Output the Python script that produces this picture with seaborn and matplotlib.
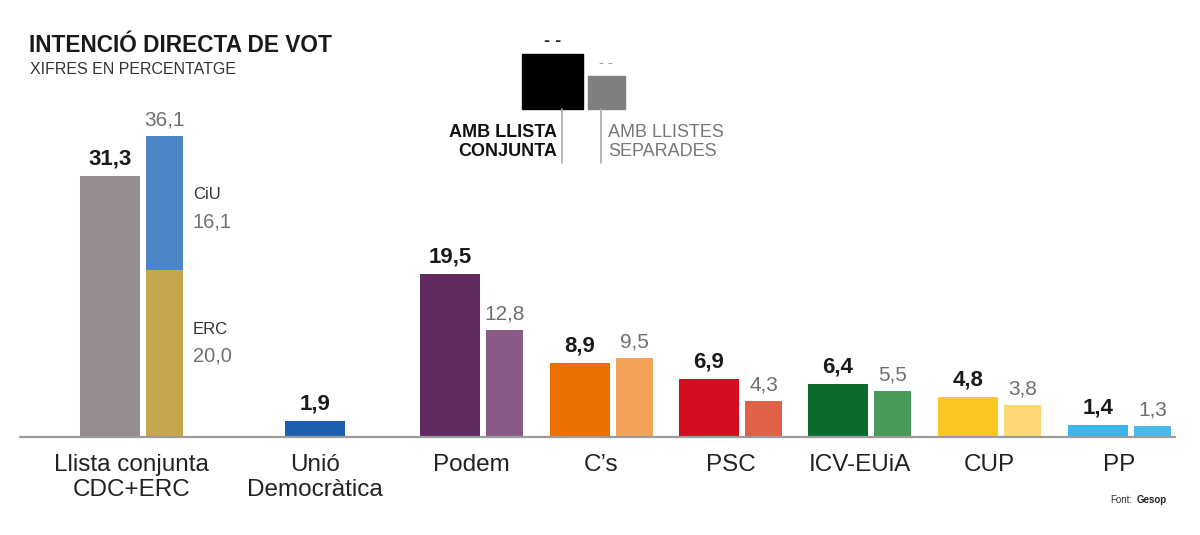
import numpy as np
import pandas as pd
import matplotlib
matplotlib.use("Agg")
import matplotlib.pyplot as plt
import seaborn as sns

# ---------------- data ----------------
parties = ["Llista conjunta\nCDC+ERC", "Unió\nDemocràtica", "Podem", "C’s", "PSC",
           "ICV-EUiA", "CUP", "PP"]
joint_values = [31.3, 1.9, 19.5, 8.9, 6.9, 6.4, 4.8, 1.4]
separate_values = [36.1, np.nan, 12.8, 9.5, 4.3, 5.5, 3.8, 1.3]
stack_labels = ["CiU", "ERC"]
stack_values = [16.1, 20.0]

title = "INTENCIÓ DIRECTA DE VOT"
subtitle = "XIFRES EN PERCENTATGE"
legend_joint = "AMB LLISTA\nCONJUNTA"
legend_sep = "AMB LLISTES\nSEPARADES"
source_prefix = "Font:"
source_name = "Gesop"

# ---------------- styles ----------------
joint_colors = ["#958c90", "#1a5fb0", "#622a60", "#ec7000", "#d30d1f", "#0a6b2c", "#fcc720", "#3bb4e8"]
sep_colors = ["#4b86c7", "#ffffff", "#8a5a86", "#f3a25a", "#df6246", "#479a58", "#fdd776", "#49b9ea"]
erc_color = "#c5a64f"

W, H = 1200, 535
BASE = 437          # baseline pixel row
PXU = 8.34          # pixels per percentage point
JOINT_LEFT = [80, 285, 420, 550, 679, 808, 938, 1068]
JOINT_W = 60
SEP_OFF = 66
SEP_W = 37

sns.set_theme(style="white")
plt.rcParams["font.family"] = ["Liberation Sans", "DejaVu Sans"]

fig = plt.figure(figsize=(W / 100, H / 100), dpi=100)
ax = fig.add_axes([0, (H - BASE) / H, 1, BASE / H])

idx = list(range(len(parties)))
df_joint = pd.DataFrame({"i": idx, "party": parties, "value": joint_values})
df_sep = pd.DataFrame({"i": idx, "party": parties, "value": separate_values}).dropna()
df_erc = pd.DataFrame({"i": [0], "party": [parties[0]], "value": [stack_values[1]]})

def draw(df, palette, left_fn, width):
    n0 = len(ax.patches)
    sns.barplot(data=df, x="i", y="value", hue="party", palette=palette, dodge=False,
                legend=False, native_scale=True, width=0.5, linewidth=0, ax=ax,
                errorbar=None, saturation=1)
    for p in ax.patches[n0:]:
        k = int(round(p.get_x() + p.get_width() / 2))
        p.set_x(left_fn(k))
        p.set_width(width)

draw(df_joint, dict(zip(parties, joint_colors)), lambda k: JOINT_LEFT[k], JOINT_W)
draw(df_sep, dict(zip(parties, sep_colors)), lambda k: JOINT_LEFT[k] + SEP_OFF, SEP_W)
draw(df_erc, {parties[0]: erc_color}, lambda k: JOINT_LEFT[k] + SEP_OFF, SEP_W)

ax.set_xlim(0, W)
ax.set_ylim(0, BASE / PXU)
for s in ax.spines.values():
    s.set_visible(False)
ax.axhline(0, xmin=20 / W, xmax=1175 / W, color="#9b9b9b", lw=1.6, clip_on=False)

# category labels
centers = []
for k in idx:
    if np.isnan(separate_values[k]):
        centers.append(JOINT_LEFT[k] + JOINT_W / 2)
    else:
        centers.append((JOINT_LEFT[k] + SEP_OFF + SEP_W + JOINT_LEFT[k]) / 2)
ax.set_xticks(centers)
ax.set_xticklabels(parties, fontsize=17.5, color="#222222", linespacing=1.2)
ax.tick_params(axis="x", length=0, pad=12)
ax.set_yticks([])
ax.set_xlabel("")
ax.set_ylabel("")

def fmt(v):
    return f"{v:.1f}".replace(".", ",")

for k in idx:
    jx = JOINT_LEFT[k] + JOINT_W / 2
    ax.text(jx, joint_values[k] + 17 / PXU, fmt(joint_values[k]), ha="center", va="center",
            fontsize=16, fontweight="bold", color="#1a1a1a")
    if not np.isnan(separate_values[k]):
        sx = JOINT_LEFT[k] + SEP_OFF + SEP_W / 2
        ax.text(sx, separate_values[k] + 16 / PXU, fmt(separate_values[k]), ha="center",
                va="center", fontsize=15, color="#6f6f6f")

# stacked component labels
sx = JOINT_LEFT[0] + SEP_OFF + SEP_W + 10
seg_tops = [stack_values[1] + stack_values[0], stack_values[1]]
for lab, val, top in zip(stack_labels, stack_values, seg_tops):
    ax.text(sx, top - 59 / PXU, lab, ha="left", va="center", fontsize=12, color="#333333")
    ax.text(sx, top - 86 / PXU, fmt(val), ha="left", va="center", fontsize=14.5, color="#6f6f6f")

# title
def fx(x):
    return x / W

def fy(y):
    return 1 - y / H

fig.text(fx(29), fy(45), title, ha="left", va="center", fontsize=16.3, fontweight="bold", color="#1a1a1a")
fig.text(fx(30), fy(70), subtitle, ha="left", va="center", fontsize=11.5, color="#333333")

# legend
fig.patches.append(plt.Rectangle((fx(522), fy(109)), fx(61), 55 / H, transform=fig.transFigure,
                                 color="#000000", figure=fig))
fig.patches.append(plt.Rectangle((fx(588), fy(109)), fx(37), 33 / H, transform=fig.transFigure,
                                 color="#7f7f7f", figure=fig))
fig.text(fx(553), fy(42), "- -", ha="center", va="center", fontsize=13, fontweight="bold", color="#222222")
fig.text(fx(606), fy(63), "- -", ha="center", va="center", fontsize=10.5, color="#9a9a9a")
fig.lines.append(plt.Line2D([fx(562), fx(562)], [fy(109), fy(163)], transform=fig.transFigure,
                            color="#aaaaaa", lw=1.2, figure=fig))
fig.lines.append(plt.Line2D([fx(601), fx(601)], [fy(109), fy(163)], transform=fig.transFigure,
                            color="#aaaaaa", lw=1.2, figure=fig))
fig.text(fx(557), fy(142), legend_joint, ha="right", va="center", fontsize=13, fontweight="bold",
         color="#111111", linespacing=1.2)
fig.text(fx(608), fy(142), legend_sep, ha="left", va="center", fontsize=13, color="#777777",
         linespacing=1.2)

# source
fig.text(fx(1110), fy(500), source_prefix, ha="left", va="center", fontsize=7, color="#333333")
fig.text(fx(1137), fy(500), source_name, ha="left", va="center", fontsize=7, fontweight="bold", color="#222222")

fig.savefig("out.png", dpi=100, facecolor="white")
